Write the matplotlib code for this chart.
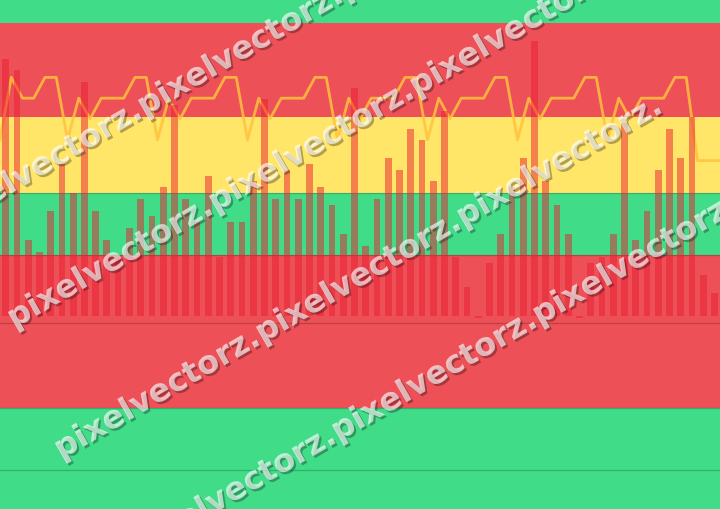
import numpy as np
import matplotlib
matplotlib.use("Agg")
import matplotlib.pyplot as plt
import matplotlib.patheffects as pe

# bar values (integer units), one per slot
bar_values = [44, 42, 13, 11, 18, 26, 21, 40, 18, 13, 10, 15, 20, 17, 22, 36,
              20, 16, 24, 10, 16, 16, 23, 37, 20, 25, 20, 26, 22, 19, 14, 39,
              12, 20, 27, 25, 32, 30, 23, 35, 10, 5, -0.4, 9, 14, 22, 27, 47,
              23, 19, 14, -0.4, 9, 10, 14, 33, 13, 18, 25, 32, 27, 34, 7, 4]

# line levels, drawn between the bars (one more point than bars)
line_values = [1, 4, 3, 3, 4, 4, 1, 3, 2,
               3, 3, 3, 4, 4, 1, 3, 2,
               3, 3, 3, 4, 4, 1, 3, 2,
               3, 3, 3, 4, 4, 1, 3, 2,
               3, 3, 3, 4, 4, 1, 3, 2,
               3, 3, 3, 4, 4, 1, 3, 2,
               3, 3, 3, 4, 4, 1, 3, 2,
               3, 3, 3, 4, 4, 0, 0, 0]

# background bands (bottom, top, colour) in bar units
GREEN = '#40DC88'
RED = '#ED5057'
YELLOW = '#FFE568'
bands = [(-33, -15.75, GREEN), (-15.75, 10.5, RED), (10.5, 21, GREEN),
         (21, 34, YELLOW), (34, 50, RED), (50, 54, GREEN)]
rules = [21, 10.5, -1.25, -15.75, -26.33]

watermark = 'pixelvectorz.' * 3

fig = plt.figure(figsize=(7.2, 5.09), dpi=100)
x = np.arange(len(bar_values))
xlim = (-0.5, len(bar_values) - 0.5)
ylim = (-33, 54)

# coloured bands go on a bottom axes
base = fig.add_axes([0, 0, 1, 1], zorder=0)
base.set_xlim(xlim)
base.set_ylim(ylim)
for lo, hi, c in bands:
    base.axhspan(lo, hi, color=c, lw=0)
for r in rules:
    base.axhline(r, color='black', alpha=0.2, lw=0.9)
base.axis('off')

# the line has its own scale
ax2 = fig.add_axes([0, 0, 1, 1], zorder=1)
ax2.set_xlim(xlim)
ax2.set_ylim(-16.75, 7.72)
ax2.plot(np.arange(len(line_values)) - 0.5, line_values, color='#FFC23D',
         alpha=0.85, lw=2)
ax2.axis('off')

# bars on top
ax = fig.add_axes([0, 0, 1, 1], zorder=2)
ax.set_xlim(xlim)
ax.set_ylim(ylim)
ax.bar(x, bar_values, width=0.6, color='#EB1E32', alpha=0.5)
ax.axis('off')

# watermark rows: start x and centre-line height at x=0 (pixels from top-left)
angle = 30
rows = [(-61, 190), (10, 327), (57, 485), (133, 627)]
W, H = 720, 509
for x0, c in rows:
    y0 = c - np.tan(np.radians(angle)) * x0
    fig.text(x0 / W, 1 - y0 / H, watermark, rotation=angle, rotation_mode='anchor',
             ha='left', va='center', fontsize=23, fontweight='bold',
             color='white', alpha=0.4, zorder=10,
             path_effects=[pe.withSimplePatchShadow(offset=(1.5, -1.5), shadow_rgbFace='black', alpha=0.3),
                           pe.Normal()])

fig.savefig('out.png', dpi=100)
